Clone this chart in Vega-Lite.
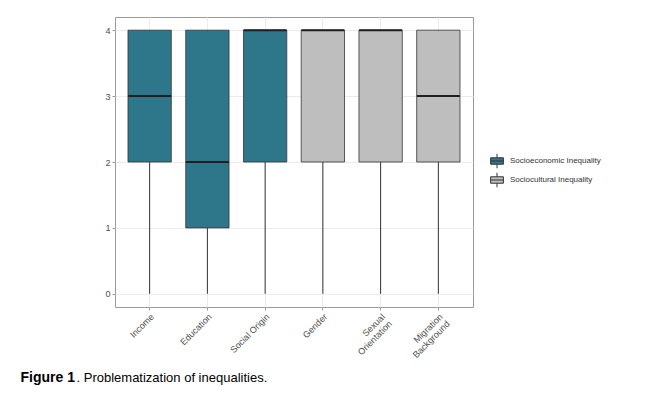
{
  "$schema": "https://vega.github.io/schema/vega-lite/v6.json",
  "autosize": "none",
  "width": 358,
  "height": 290,
  "padding": {"left": 115, "top": 17, "right": 180, "bottom": 92},
  "background": "white",
  "config": {
    "view": {"stroke": "#9a9a9a", "strokeWidth": 1},
    "font": "Liberation Sans"
  },
  "data": {
    "values": [
      {"category": "Income", "group": "Socioeconomic Inequality", "min": 0, "q1": 2, "median": 3, "q3": 4, "max": 4},
      {"category": "Education", "group": "Socioeconomic Inequality", "min": 0, "q1": 1, "median": 2, "q3": 4, "max": 4},
      {"category": "Social Origin", "group": "Socioeconomic Inequality", "min": 0, "q1": 2, "median": 4, "q3": 4, "max": 4},
      {"category": "Gender", "group": "Sociocultural Inequality", "min": 0, "q1": 2, "median": 4, "q3": 4, "max": 4},
      {"category": "Sexual Orientation", "group": "Sociocultural Inequality", "min": 0, "q1": 2, "median": 4, "q3": 4, "max": 4},
      {"category": "Migration Background", "group": "Sociocultural Inequality", "min": 0, "q1": 2, "median": 3, "q3": 4, "max": 4}
    ]
  },
  "encoding": {
    "x": {
      "field": "category",
      "type": "nominal",
      "sort": ["Income", "Education", "Social Origin", "Gender", "Sexual Orientation", "Migration Background"],
      "scale": {"paddingInner": 0, "paddingOuter": 0.1},
      "axis": {
        "title": ". Problematization of inequalities.",
        "titleX": -39,
        "titleY": 74,
        "titleAlign": "left",
        "titleAnchor": null,
        "titleBaseline": "alphabetic",
        "titleFontSize": 13,
        "titleFontWeight": "normal",
        "titleColor": "#000000",
        "labelAngle": -45,
        "labelAlign": "right",
        "labelBaseline": "top",
        "labelFontSize": 9,
        "labelColor": "#4d4d4d",
        "labelPadding": 2,
        "labelLineHeight": 10,
        "labelExpr": "datum.label == 'Sexual Orientation' ? ['Sexual', 'Orientation'] : datum.label == 'Migration Background' ? ['Migration', 'Background'] : datum.label",
        "tickColor": "#9a9a9a",
        "tickSize": 3,
        "domain": false,
        "grid": true,
        "gridColor": "#ebebeb",
        "gridWidth": 1
      }
    }
  },
  "layer": [
    {
      "mark": {"type": "rule", "color": "#333333", "strokeWidth": 1},
      "encoding": {
        "y": {
          "field": "min",
          "type": "quantitative",
          "scale": {"domain": [-0.2, 4.2], "nice": false, "zero": false},
          "axis": {
            "title": "Figure 1",
            "titleAngle": 0,
            "titleX": -95,
            "titleY": 364,
            "titleAlign": "left",
            "titleBaseline": "alphabetic",
            "titleFontSize": 14,
            "titleFontWeight": "bold",
            "titleColor": "#000000",
            "values": [0, 0.5, 1, 1.5, 2, 2.5, 3, 3.5, 4],
            "labelExpr": "datum.value % 1 === 0 ? format(datum.value, 'd') : ''",
            "labelFontSize": 9,
            "labelColor": "#4d4d4d",
            "labelPadding": 2,
            "tickSize": 3,
            "tickColor": {"condition": {"test": "datum.value % 1 !== 0", "value": "transparent"}, "value": "#9a9a9a"},
            "domain": false,
            "grid": true,
            "gridColor": {"condition": {"test": "datum.value % 1 !== 0", "value": "#f3f3f3"}, "value": "#ebebeb"},
            "gridWidth": {"condition": {"test": "datum.value % 1 !== 0", "value": 0.6}, "value": 1}
          }
        },
        "y2": {"field": "max"}
      }
    },
    {
      "mark": {"type": "bar", "stroke": "#333333", "strokeWidth": 0.8, "width": {"band": 0.75}},
      "encoding": {
        "y": {"field": "q1", "type": "quantitative"},
        "y2": {"field": "q3"},
        "fill": {
          "field": "group",
          "type": "nominal",
          "scale": {"domain": ["Socioeconomic Inequality", "Sociocultural Inequality"], "range": ["#2e768a", "#bebebe"]},
          "legend": {
            "title": null,
            "orient": "none",
            "legendX": 373,
            "legendY": 135,
            "symbolType": "M-0.75,-0.38H0.75V0.38H-0.75Z M0,-0.85V-0.38 M0,0.38V0.85 M-0.75,0H0.75",
            "symbolSize": 289,
            "symbolStrokeColor": "#333333",
            "symbolStrokeWidth": 1,
            "symbolOpacity": 1,
            "labelFontSize": 8,
            "labelColor": "#333333",
            "labelOffset": 4,
            "rowPadding": -5
          }
        }
      }
    },
    {
      "mark": {"type": "tick", "color": "#1f1f1f", "thickness": 2, "size": 43, "opacity": 1},
      "encoding": {
        "y": {"field": "median", "type": "quantitative"}
      }
    }
  ]
}
